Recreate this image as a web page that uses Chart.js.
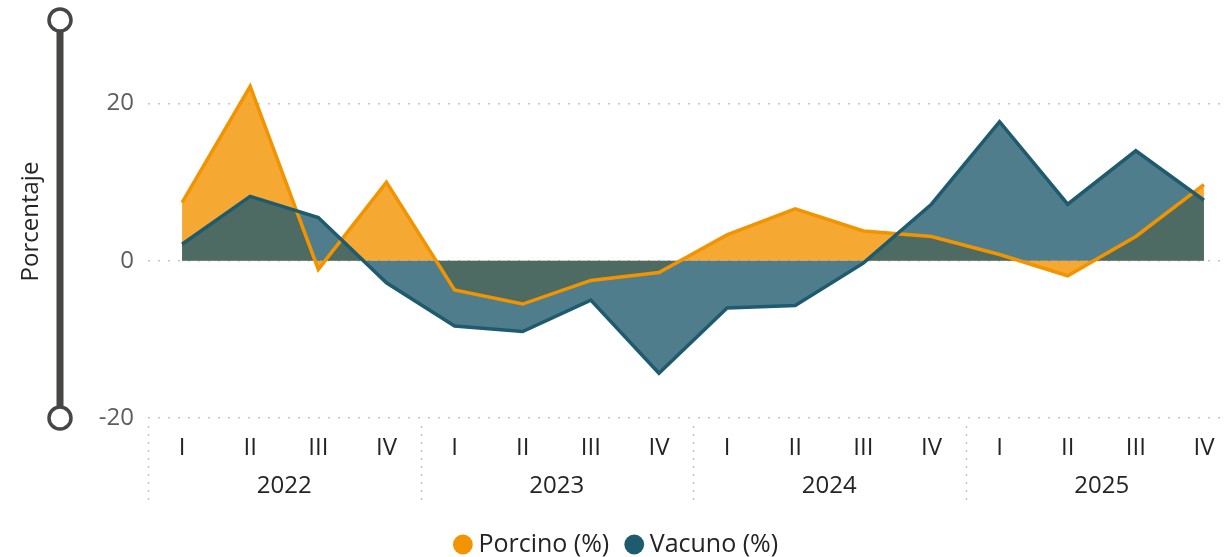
<!DOCTYPE html>
<html><head><meta charset="utf-8">
<script src="https://cdn.jsdelivr.net/npm/chart.js@4"></script>
<style>html,body{margin:0;padding:0;background:#fff;overflow:hidden;width:1225px;height:557px;font-family:'Open Sans',sans-serif}#wrap{width:1238px;height:567px;position:relative}</style>
</head><body><div id="wrap"><canvas id="c"></canvas></div>
<script>
const quarters = ['I','II','III','IV','I','II','III','IV','I','II','III','IV','I','II','III','IV'];
const years = ['2022','2023','2024','2025'];
const porcino = [7.4, 22.2, -1.1, 10.0, -3.7, -5.5, -2.5, -1.5, 3.3, 6.6, 3.8, 3.1, 0.8, -1.9, 3.1, 9.7];
const vacuno  = [2.1, 8.2, 5.5, -2.8, -8.3, -9.0, -5.0, -14.3, -6.0, -5.7, -0.3, 7.2, 17.7, 7.2, 14.0, 7.7];
const yTicks = [-20, 0, 20];
const yMin = -20, yMax = 30;

const FONT = "'Open Sans', sans-serif";
Chart.defaults.font.family = FONT;
Chart.defaults.font.size = 24;

const groupPlugin = {
  id: 'groups',
  afterDraw(chart) {
    const ctx = chart.ctx, x = chart.scales.x, x2 = chart.scales.x2;
    const half = (x2.getPixelForValue(1) - x2.getPixelForValue(0)) / 2;
    ctx.save();
    ctx.strokeStyle = '#C8C6C4';
    ctx.lineWidth = 1.5;
    ctx.setLineDash([2, 6]);
    for (let i = 0; i < years.length; i++) {
      const px = Math.round(x2.getPixelForValue(i) - half) + 0.5;
      ctx.beginPath();
      ctx.moveTo(px, x.top + 8);
      ctx.lineTo(px, x.top + 84);
      ctx.stroke();
    }
    ctx.restore();
  }
};

const sliderPlugin = {
  id: 'slider',
  afterDraw(chart) {
    const ctx = chart.ctx, y = chart.scales.y;
    const cx = 60, top = 20, bot = y.getPixelForValue(yMin);
    ctx.save();
    ctx.strokeStyle = '#484644';
    ctx.lineWidth = 7;
    ctx.beginPath(); ctx.moveTo(cx, top); ctx.lineTo(cx, bot); ctx.stroke();
    ctx.lineWidth = 3.5;
    ctx.fillStyle = '#ffffff';
    for (const cy of [top, bot]) {
      ctx.beginPath(); ctx.arc(cx, cy, 11, 0, Math.PI * 2); ctx.fill(); ctx.stroke();
    }
    ctx.restore();
  }
};

function build() {
  new Chart(document.getElementById('c'), {
    type: 'line',
    data: {
      labels: quarters,
      datasets: [
        { label: 'Porcino (%)', data: porcino, order: 1, borderColor: '#F29400', backgroundColor: 'rgba(242,148,0,0.8)',
          fill: 'origin', borderWidth: 3.5, pointRadius: 0, pointHoverRadius: 0, tension: 0 },
        { label: 'Vacuno (%)', data: vacuno, order: 0, borderColor: '#1F5B6E', backgroundColor: 'rgba(35,92,110,0.8)',
          fill: 'origin', borderWidth: 3.5, pointRadius: 0, pointHoverRadius: 0, tension: 0 }
      ]
    },
    options: {
      responsive: true, maintainAspectRatio: false, animation: false,
      layout: { padding: { left: 0, right: 0, top: 25, bottom: 0 } },
      plugins: {
        filler: { drawTime: 'beforeDatasetsDraw' },
        tooltip: { enabled: false },
        legend: {
          position: 'bottom',
          labels: {
            usePointStyle: true, pointStyle: 'circle', boxHeight: 14, boxWidth: 6,
            padding: 22, color: '#252423', font: { size: 25 },
            sort: (a, b) => a.datasetIndex - b.datasetIndex,
            generateLabels: (chart) => chart.data.datasets.map((d, i) => ({
              text: d.label, fillStyle: d.borderColor, strokeStyle: d.borderColor, lineWidth: 0,
              pointStyle: 'circle', datasetIndex: i, hidden: false, fontColor: '#252423'
            }))
          }
        }
      },
      scales: {
        x: {
          type: 'category', offset: true, weight: 0,
          grid: { display: false }, border: { display: false },
          ticks: { color: '#252423', padding: 8, maxRotation: 0, autoSkip: false },
          afterFit: s => { s.height = 40; }
        },
        x2: {
          type: 'category', labels: years, offset: true, position: 'bottom', weight: 1,
          grid: { display: false }, border: { display: false },
          ticks: { color: '#252423', padding: 6, maxRotation: 0 },
          afterFit: s => { s.height = 52; }
        },
        y: {
          min: yMin, max: yMax,
          afterBuildTicks: s => { s.ticks = yTicks.map(v => ({ value: v })); },
          afterFit: s => { s.width = 148; s.paddingTop = 0; s.paddingBottom = 0; },
          grid: { color: '#C8C6C4', lineWidth: 1.5, drawTicks: false },
          border: { display: false, dash: [2, 8] },
          ticks: { color: '#605E5C', padding: 14 },
          title: { display: true, text: 'Porcentaje', color: '#252423', padding: { top: 17, bottom: 0 } }
        }
      }
    },
    plugins: [groupPlugin, sliderPlugin]
  });
}

let built = false;
function go() { if (!built) { built = true; build(); } }
if (document.fonts && document.fonts.load) {
  Promise.all([document.fonts.load("24px 'Open Sans'"), document.fonts.load("25px 'Open Sans'")]).then(go, go);
  setTimeout(go, 1500);
} else { go(); }
</script></body></html>
